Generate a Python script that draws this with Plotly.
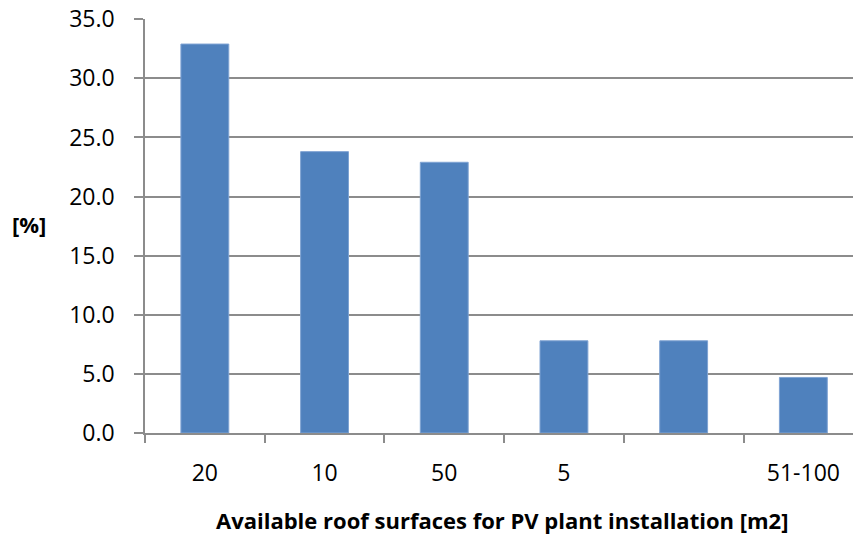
import plotly.graph_objects as go

categories = ["20", "10", "50", "5", " ", "51-100"]
values = [32.9, 23.8, 22.9, 7.8, 7.8, 4.7]
y_ticks = [0, 5, 10, 15, 20, 25, 30, 35]

FONT = "Open Sans"
GRID = "#8c8c8c"

PL, PT, PB = 145, 19, 433   # plot-area pixel edges
W, H = 853, 536
PW, PH = W - PL, PB - PT

fig = go.Figure(go.Bar(
    x=categories, y=values,
    marker=dict(color="#4F81BD", line=dict(color="#7FA3D3", width=1)),
))

fig.update_layout(
    width=W, height=H,
    margin=dict(l=PL, r=0, t=PT, b=H - PB, autoexpand=False),
    paper_bgcolor="white", plot_bgcolor="white",
    bargap=0.6, showlegend=False,
    font=dict(family=FONT, color="black"),
)
fig.update_xaxes(
    type="category", range=[-0.5, -0.5 + PW / 119.7],
    showline=True, linecolor=GRID, linewidth=1.5,
    ticks="outside", tickson="boundaries", ticklen=8, tickcolor=GRID, tickwidth=1.5,
    tickfont=dict(size=23, family=FONT), ticklabelstandoff=19,
    showgrid=False,
)
fig.update_yaxes(
    range=[0, 35.02], tickvals=y_ticks, tickformat=".1f",
    showline=True, linecolor=GRID, linewidth=1.5,
    ticks="outside", ticklen=9, tickcolor=GRID, tickwidth=1.5,
    showgrid=True, gridcolor=GRID, gridwidth=1.5,
    tickfont=dict(size=23, family=FONT), ticklabelstandoff=15,
    ticklabeloverflow="allow",
    zeroline=False,
)


def px_x(x):
    return (x - PL) / PW


def px_y(y):
    return (PB - y) / PH


fig.add_annotation(
    text="<b>[%]</b>", xref="paper", yref="paper",
    x=px_x(29), y=px_y(224), xanchor="center", yanchor="middle",
    showarrow=False, font=dict(size=22, family=FONT),
)
fig.add_annotation(
    text="<b>Available roof surfaces for PV plant installation [m2]</b>",
    xref="paper", yref="paper",
    x=px_x(502), y=px_y(520), xanchor="center", yanchor="middle",
    showarrow=False, font=dict(size=22, family=FONT),
)

fig.write_html(
    "out.html",
    config={"displayModeBar": False},
    post_script="document.body.style.margin='0';document.body.style.overflow='hidden';",
)
